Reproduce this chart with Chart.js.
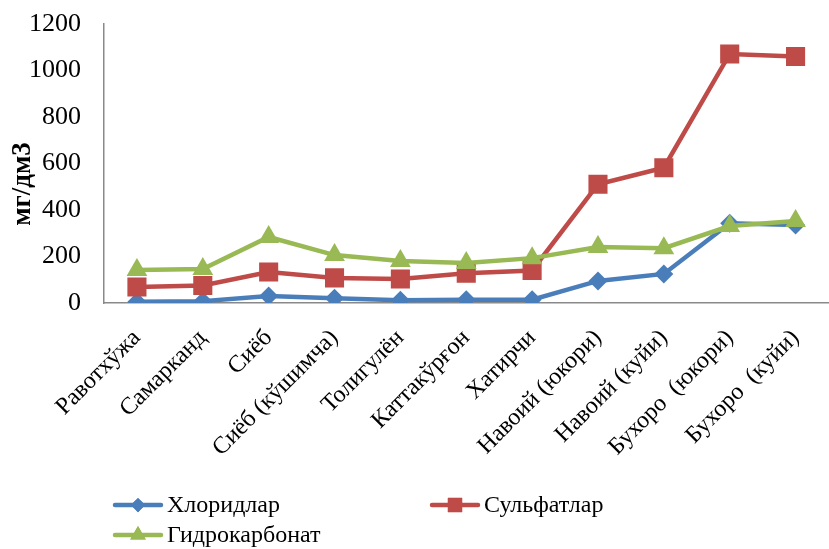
<!DOCTYPE html>
<html>
<head>
<meta charset="utf-8">
<script src="https://cdn.jsdelivr.net/npm/chart.js@4"></script>
<style>
  body { margin: 0; background: #fff; overflow: hidden; }
  #wrap { position: relative; width: 842px; height: 549px; }
</style>
</head>
<body>
<div id="wrap"><canvas id="chart"></canvas></div>
<script>
// categories (sampling points)
const stations = ['Равотхўжа', 'Самарканд', 'Сиёб', 'Сиёб (кўшимча)', 'Толигулён', 'Каттакўрғон',
    'Хатирчи', 'Навоий (юкори)', 'Навоий (куйи)', 'Бухоро  (юкори)', 'Бухоро  (куйи)'];

// series values, мг/дм3
const chlorides   = [5, 8, 30, 20, 12, 14, 14, 95, 125, 343, 335];
const sulfates    = [69, 75, 133, 108, 103, 128, 140, 511, 582, 1071, 1060];
const bicarbonate = [142, 146, 284, 206, 181, 172, 193, 241, 236, 331, 353];

const seriesNames = ['Хлоридлар', 'Сульфатлар', 'Гидрокарбонат'];
const yTicks = [0, 200, 400, 600, 800, 1000, 1200];

const serif = "'Liberation Serif', 'Times New Roman', serif";
const colors = ['#4A7EBB', '#BE4B48', '#98B954'];
const markers = [
    { style: 'rectRot', radius: 9.5 },
    { style: 'rect', radius: 13.5 },
    { style: 'triangle', radius: 12 }
];

// legend + axis title drawn by hand so they sit where the original has them
const extras = {
    id: 'extras',
    afterDraw(chart) {
        const ctx = chart.ctx;
        ctx.save();
        // y axis title
        ctx.translate(23, 184);
        ctx.rotate(-Math.PI / 2);
        ctx.font = 'bold 27px ' + serif;
        ctx.fillStyle = '#000';
        ctx.textAlign = 'center';
        ctx.textBaseline = 'middle';
        ctx.fillText('мг/дм3', 0, 0);
        ctx.restore();

        const spots = [[115, 505], [432, 505], [115, 535]];
        chart.data.datasets.forEach((ds, i) => {
            const [x, y] = spots[i];
            ctx.save();
            ctx.strokeStyle = ds.borderColor;
            ctx.lineWidth = 4.5;
            ctx.lineCap = 'round';
            ctx.beginPath();
            ctx.moveTo(x, y);
            ctx.lineTo(x + 46, y);
            ctx.stroke();
            ctx.fillStyle = ds.borderColor;
            Chart.helpers.drawPoint(ctx, { pointStyle: ds.pointStyle, radius: ds.pointRadius * 0.75, borderWidth: 0 }, x + 23, y);
            ctx.fill();
            ctx.fillStyle = '#000';
            ctx.font = '24px ' + serif;
            ctx.textAlign = 'left';
            ctx.textBaseline = 'middle';
            ctx.fillText(ds.label, x + 52, y + 1);
            ctx.restore();
        });
    }
};

const ctx = document.getElementById('chart').getContext('2d');
new Chart(ctx, {
    type: 'line',
    data: {
        labels: stations,
        datasets: [chlorides, sulfates, bicarbonate].map((vals, i) => ({
            label: seriesNames[i],
            data: vals,
            borderColor: colors[i],
            backgroundColor: colors[i],
            pointBackgroundColor: colors[i],
            pointBorderWidth: 0,
            borderWidth: 4.5,
            pointStyle: markers[i].style,
            pointRadius: markers[i].radius,
            pointHoverRadius: markers[i].radius,
            tension: 0,
            order: 2 - i
        }))
    },
    options: {
        responsive: true,
        maintainAspectRatio: false,
        animation: false,
        layout: { padding: { top: 24, right: 0, left: 0, bottom: 0 } },
        plugins: { legend: { display: false }, tooltip: { enabled: false } },
        scales: {
            x: {
                offset: true,
                grid: { display: false, drawTicks: false, offset: true },
                border: { display: true, color: '#898989', width: 1.5 },
                ticks: {
                    color: '#000',
                    font: { family: serif, size: 24 },
                    maxRotation: 45,
                    minRotation: 45,
                    autoSkip: false,
                    padding: 21
                },
                afterFit(s) { s.height = 246; s.paddingLeft = 0; s.paddingRight = 0; }
            },
            y: {
                min: 0,
                max: 1200,
                afterBuildTicks(s) { s.ticks = yTicks.map(v => ({ value: v })); },
                grid: { display: false, drawTicks: false },
                border: { display: true, color: '#898989', width: 1.5 },
                ticks: {
                    color: '#000',
                    font: { family: serif, size: 26 },
                    padding: 23,
                    callback: v => String(v)
                },
                afterFit(s) { s.width = 104; s.paddingTop = 0; s.paddingBottom = 0; }
            }
        }
    },
    plugins: [extras]
});
</script>
</body>
</html>
